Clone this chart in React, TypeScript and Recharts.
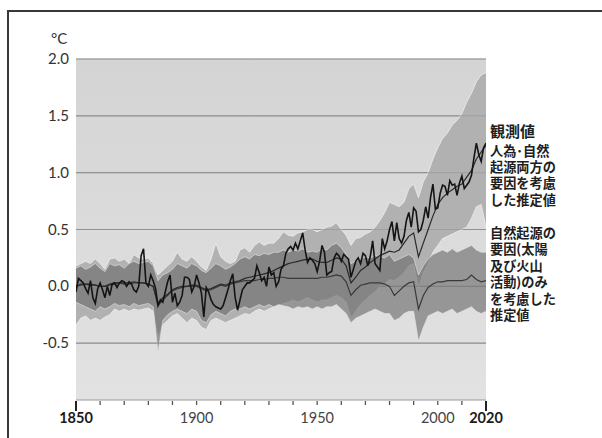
import { ComposedChart, Area, Line, XAxis, YAxis, CartesianGrid, ReferenceLine } from 'recharts'

// observed annual anomaly (°C vs 1850-1900), 1850..2020
const OBS_START = 1850
const observed = [
  -0.05, 0.07, 0.05, 0.03, -0.02, -0.06, 0.05, -0.1, -0.15, -0.02,
  0.03, -0.03, -0.1, 0.0, -0.08, 0.02, 0.03, -0.01, 0.03, 0.05,
  0.04, 0.0, 0.04, 0.02, -0.03, -0.05, 0.0, 0.27, 0.33, 0.03,
  0.0, 0.1, 0.05, -0.02, -0.17, -0.12, -0.14, -0.05, 0.04, 0.1,
  -0.14, -0.06, -0.17, -0.14, -0.08, 0.08, 0.08, 0.06, -0.05, 0.0,
  0.1, 0.03, -0.06, -0.27, -0.01, -0.05, -0.12, -0.16, -0.18, -0.19,
  -0.2, -0.17, -0.1, -0.03, 0.05, 0.11, -0.1, -0.21, -0.12, -0.03,
  0.0, 0.03, 0.03, 0.05, 0.07, 0.18, 0.12, 0.05, 0.08, 0.0,
  0.17, 0.1, 0.12, 0.0, 0.04, 0.15, 0.18, 0.29, 0.33, 0.35,
  0.32, 0.38, 0.33, 0.4, 0.47, 0.32, 0.21, 0.25, 0.23, 0.2,
  0.13, 0.22, 0.36, 0.3, 0.1, 0.12, 0.13, 0.25, 0.29, 0.27,
  0.22, 0.28, 0.26, 0.24, 0.08, 0.15, 0.22, 0.25, 0.2, 0.29,
  0.27, 0.18, 0.26, 0.4, 0.2, 0.17, 0.14, 0.42, 0.33, 0.4,
  0.5, 0.57, 0.4, 0.56, 0.42, 0.38, 0.44, 0.58, 0.65, 0.52,
  0.69, 0.66, 0.48, 0.5, 0.58, 0.7, 0.6, 0.78, 0.9, 0.68,
  0.69, 0.82, 0.89, 0.88, 0.8, 0.93, 0.89, 0.9, 0.8, 0.91,
  0.97, 0.86, 0.89, 0.92, 0.98, 1.13, 1.26, 1.16, 1.1, 1.22,
  1.26,
]

// model estimates, every 2 years 1850..2020
const MODEL_START = 1850
const MODEL_STEP = 2
const humanMean = [
  0.0, 0.02, 0.02, 0.02, 0.01, 0.0, 0.0, 0.02, 0.03, 0.03,
  0.03, 0.03, 0.04, 0.03, 0.03, 0.02, 0.0, -0.15, -0.1, -0.07,
  -0.03, -0.01, 0.0, 0.0, 0.01, 0.01, -0.01, -0.03, -0.02, 0.0,
  0.02, 0.01, 0.03, 0.04, 0.05, 0.07, 0.08, 0.09, 0.1, 0.11,
  0.12, 0.14, 0.16, 0.18, 0.2, 0.21, 0.22, 0.23, 0.24, 0.24,
  0.22, 0.21, 0.21, 0.23, 0.25, 0.24, 0.18, 0.03, 0.08, 0.14,
  0.17, 0.21, 0.24, 0.27, 0.29, 0.31, 0.3, 0.32, 0.38, 0.44,
  0.47, 0.26, 0.38, 0.5, 0.62, 0.72, 0.78, 0.82, 0.85, 0.88,
  0.9, 0.96, 1.02, 1.12, 1.18, 1.24,
]
const humanLow = [
  -0.34, -0.28, -0.26, -0.3, -0.28, -0.3, -0.27, -0.25, -0.2, -0.22,
  -0.2, -0.22, -0.2, -0.21, -0.2, -0.19, -0.22, -0.45, -0.34, -0.3,
  -0.26, -0.24, -0.28, -0.32, -0.28, -0.3, -0.36, -0.38, -0.3, -0.28,
  -0.3, -0.32, -0.3, -0.28, -0.26, -0.24, -0.25, -0.22, -0.2, -0.22,
  -0.2, -0.18, -0.17, -0.15, -0.14, -0.12, -0.14, -0.12, -0.1, -0.12,
  -0.14, -0.12, -0.12, -0.1, -0.08, -0.1, -0.14, -0.28, -0.22, -0.16,
  -0.12, -0.08, -0.05, 0.0, 0.02, 0.06, 0.05, 0.08, 0.12, 0.18,
  0.2, -0.02, 0.12, 0.2, 0.3, 0.36, 0.42, 0.44, 0.46, 0.48,
  0.5, 0.52, 0.6, 0.7, 0.72, 0.52,
]
const humanHigh = [
  0.18, 0.2, 0.22, 0.2, 0.24, 0.2, 0.15, 0.24, 0.25, 0.22,
  0.24, 0.2, 0.28, 0.25, 0.24, 0.25, 0.2, 0.1, 0.14, 0.18,
  0.22, 0.3, 0.24, 0.22, 0.26, 0.22, 0.17, 0.14, 0.24, 0.38,
  0.26, 0.22, 0.2, 0.22, 0.32, 0.34, 0.3, 0.36, 0.39, 0.36,
  0.38, 0.38, 0.42, 0.48, 0.45, 0.44, 0.47, 0.48, 0.5, 0.5,
  0.48, 0.5, 0.52, 0.53, 0.56, 0.5, 0.45, 0.36, 0.42, 0.43,
  0.46, 0.48, 0.52, 0.58, 0.65, 0.74, 0.72, 0.7, 0.74, 0.86,
  0.9, 0.78, 0.92, 1.0, 1.12, 1.22, 1.3, 1.35, 1.42, 1.46,
  1.52, 1.62, 1.7, 1.8, 1.86, 1.88,
]
const naturalMean = [
  0.0, 0.01, 0.02, 0.01, 0.01, 0.0, 0.0, 0.01, 0.02, 0.03,
  0.02, 0.02, 0.03, 0.03, 0.03, 0.02, 0.0, -0.17, -0.12, -0.08,
  -0.04, -0.02, -0.01, 0.0, 0.0, 0.0, -0.02, -0.04, -0.03, -0.01,
  0.01, 0.0, 0.02, 0.03, 0.04, 0.05, 0.05, 0.05, 0.06, 0.06,
  0.07, 0.07, 0.08, 0.08, 0.07, 0.07, 0.07, 0.07, 0.07, 0.07,
  0.07, 0.08, 0.08, 0.09, 0.1, 0.09, 0.04, -0.08, -0.03, 0.01,
  0.02, 0.03, 0.03, 0.03, 0.02, 0.0, -0.08, -0.04, 0.0, 0.03,
  0.04, -0.2, -0.08, -0.01, 0.02, 0.04, 0.04, 0.05, 0.05, 0.05,
  0.05, 0.06, 0.1, 0.06, 0.04, 0.05,
]
const naturalLow = [
  -0.14, -0.16, -0.18, -0.2, -0.22, -0.18, -0.2, -0.18, -0.15, -0.17,
  -0.16, -0.18, -0.15, -0.17, -0.16, -0.15, -0.18, -0.58, -0.3, -0.25,
  -0.22, -0.2, -0.22, -0.24, -0.2, -0.22, -0.3, -0.32, -0.25, -0.22,
  -0.24, -0.26, -0.22, -0.2, -0.2, -0.18, -0.2, -0.18, -0.16, -0.18,
  -0.16, -0.18, -0.16, -0.17, -0.18, -0.2, -0.18, -0.19, -0.18, -0.2,
  -0.18, -0.2, -0.18, -0.18, -0.16, -0.2, -0.24, -0.32, -0.28, -0.26,
  -0.24, -0.22, -0.2, -0.22, -0.24, -0.24, -0.3, -0.28, -0.24, -0.22,
  -0.22, -0.48, -0.36, -0.26, -0.24, -0.22, -0.24, -0.22, -0.2, -0.24,
  -0.22, -0.2, -0.18, -0.22, -0.24, -0.22,
]
const naturalHigh = [
  0.16, 0.18, 0.15, 0.17, 0.2, 0.16, 0.13, 0.2, 0.18, 0.19,
  0.16, 0.2, 0.22, 0.2, 0.21, 0.22, 0.18, 0.05, 0.1, 0.12,
  0.15, 0.2, 0.18, 0.16, 0.2, 0.18, 0.14, 0.12, 0.16, 0.2,
  0.18, 0.15, 0.17, 0.2, 0.24, 0.26, 0.24, 0.28, 0.27, 0.29,
  0.28, 0.3, 0.3, 0.32, 0.3, 0.32, 0.31, 0.33, 0.3, 0.31,
  0.3, 0.33, 0.32, 0.36, 0.38, 0.34, 0.28, 0.2, 0.22, 0.24,
  0.26, 0.25, 0.27, 0.26, 0.25, 0.28, 0.22, 0.24, 0.26, 0.28,
  0.25, 0.1, 0.18, 0.24, 0.28, 0.3, 0.32, 0.3, 0.33, 0.3,
  0.32, 0.34, 0.36, 0.32, 0.3, 0.3,
]

const yTicks = [-0.5, 0, 0.5, 1, 1.5, 2]
const xTicks = [1850, 1860, 1870, 1880, 1890, 1900, 1910, 1920, 1930, 1940, 1950, 1960, 1970, 1980, 1990, 2000, 2010, 2020]
const xLabels = [1850, 1900, 1950, 2000, 2020]
const boldYears = [1850, 2020]

const legendTitle = '観測値'
const legendTop = ['人為･自然', '起源両方の', '要因を考慮', 'した推定値']
const legendBottom = ['自然起源の', '要因(太陽', '及び火山', '活動)のみ', 'を考慮した', '推定値']

const obsData = observed.map((v, i) => ({ year: OBS_START + i, obs: v }))
const modelData = humanMean.map((v, i) => ({
  year: MODEL_START + i * MODEL_STEP,
  humanMean: v,
  human: [humanLow[i], humanHigh[i]],
  natural: [naturalLow[i], naturalHigh[i]],
  naturalMean: naturalMean[i],
}))

const NUM_FONT = 'Lato, "Open Sans", sans-serif'
const JP_FONT = '"Noto Sans CJK JP", "Noto Sans", sans-serif'

const XTick = (props: any) => {
  const { x, y, payload } = props
  const v = payload.value
  const bold = boldYears.includes(v)
  return (
    <g>
      <line x1={x} x2={x} y1={y + 1} y2={y + (bold ? 11 : 5)} stroke={bold ? '#222' : '#555'} strokeWidth={bold ? 2 : 1.3} />
      {xLabels.includes(v) && (
        <text x={x} y={y + 23} textAnchor="middle" fontFamily={NUM_FONT} fontSize={14.5}
          fontWeight={bold ? 700 : 400} fill={bold ? '#1a1a1a' : '#444'}>
          {v}
        </text>
      )}
    </g>
  )
}

const YTick = (props: any) => {
  const { x, y, payload } = props
  return (
    <text x={x - 7} y={y + 5} textAnchor="end" fontFamily={NUM_FONT} fontSize={15} fill="#333">
      {payload.value.toFixed(1)}
    </text>
  )
}

const legendText: React.CSSProperties = {
  position: 'absolute',
  left: 490,
  fontFamily: JP_FONT,
  color: '#1e1e1e',
  fontWeight: 700,
  whiteSpace: 'pre-line',
}

export default function App() {
  return (
    <div style={{ position: 'relative', width: 602, height: 438, background: '#fff', overflow: 'hidden' }}>
      <style>{'body{margin:0}'}</style>
      <ComposedChart width={602} height={438} margin={{ top: 59, right: 116, bottom: 8, left: 36 }}>
        <defs>
          <linearGradient id="plotBg" x1="0" y1="0" x2="0" y2="1">
            <stop offset="0%" stopColor="#d4d4d4" />
            <stop offset="100%" stopColor="#e2e2e2" />
          </linearGradient>
        </defs>
        <CartesianGrid vertical={false} stroke="#9a9a9a" strokeWidth={1.2} fill="url(#plotBg)" fillOpacity={1} />
        <XAxis
          type="number"
          dataKey="year"
          domain={[1850, 2020]}
          ticks={xTicks}
          axisLine={false}
          tickLine={false}
          tickSize={0}
          tickMargin={0}
          height={30}
          interval={0}
          tick={<XTick />}
          allowDataOverflow
        />
        <YAxis
          type="number"
          domain={[-1, 2]}
          ticks={yTicks}
          axisLine={false}
          tickLine={false}
          tickSize={0}
          tickMargin={0}
          width={40}
          interval={0}
          tick={<YTick />}
          allowDataOverflow
        />
        <Area data={modelData} dataKey="human" type="linear" fill="#b1b1b1" fillOpacity={1}
          stroke="#eeeeee" strokeWidth={0.8} isAnimationActive={false} />
        <Area data={modelData} dataKey="natural" type="linear" fill="#6a6a6a" fillOpacity={0.62}
          stroke="#e6e6e6" strokeWidth={0.6} isAnimationActive={false} />
        {yTicks.map((t) => (
          <ReferenceLine key={t} y={t} stroke="#8a8a8a" strokeOpacity={0.45} strokeWidth={1} />
        ))}
        <Line data={modelData} dataKey="naturalMean" type="linear" stroke="#3a3a3a" strokeWidth={1.2}
          dot={false} isAnimationActive={false} />
        <Line data={modelData} dataKey="humanMean" type="linear" stroke="#2a2a2a" strokeWidth={1.2}
          dot={false} isAnimationActive={false} />
        <Line data={obsData} dataKey="obs" type="linear" stroke="#141414" strokeWidth={1.6}
          dot={false} isAnimationActive={false} />
      </ComposedChart>
      <div style={{ position: 'absolute', left: 7, top: 10, width: 600, height: 430, borderTop: '2px solid #383838', borderLeft: '2px solid #383838', pointerEvents: 'none' }} />
      <div style={{ position: 'absolute', left: 51, top: 29, fontFamily: NUM_FONT, fontSize: 15, color: '#333' }}>°C</div>
      <div style={{ ...legendText, top: 120.5, fontSize: 15, lineHeight: '20px' }}>{legendTitle}</div>
      <div style={{ ...legendText, top: 142.5, fontSize: 13.2, lineHeight: '16.4px' }}>{legendTop.join('\n')}</div>
      <div style={{ ...legendText, top: 224.5, fontSize: 13.2, lineHeight: '16.5px' }}>{legendBottom.join('\n')}</div>
    </div>
  )
}
